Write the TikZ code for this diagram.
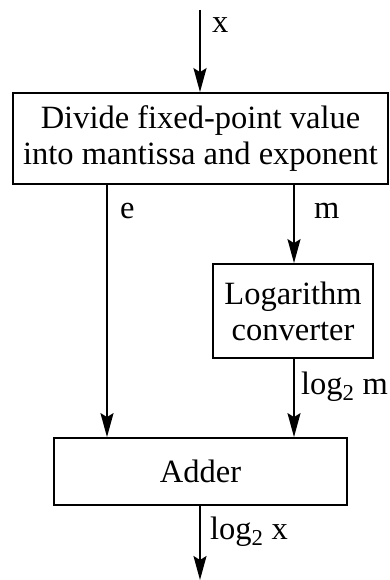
\documentclass[tikz,border=0pt]{standalone}
\usepackage{fontspec}
\setmainfont{Liberation Serif}
\usetikzlibrary{arrows.meta}
\begin{document}
\begin{tikzpicture}[x=1pt,y=-1pt,
  every node/.style={font=\fontsize{32.5}{36}\selectfont},
  blk/.style={draw,line width=1.8pt,align=center,inner sep=0pt},
  conn/.style={line width=1.8pt,-{Stealth[length=24pt,width=13pt,inset=4pt]}},
  lbl/.style={anchor=base west,inner sep=0pt}]
\useasboundingbox (0,0) rectangle (389,580);
\node[blk,minimum width=375pt,minimum height=91pt] (split) at (200.5,138.5) {Divide fixed-point value\\into mantissa and exponent};
\node[blk,minimum width=160pt,minimum height=94pt] (logc) at (293,311) {Logarithm\\converter};
\node[blk,minimum width=293pt,minimum height=67pt] (adder) at (200.5,471.5) {Adder};
\coordinate (in) at (200,10);
\coordinate (out) at (200,580);
\coordinate (ex) at (107,0);
\coordinate (mx) at (294,0);
\draw[conn] (in) -- (split.north -| in);
\draw[conn] (split.south -| ex) -- (adder.north -| ex);
\draw[conn] (split.south -| mx) -- (logc.north -| mx);
\draw[conn] (logc.south -| mx) -- (adder.north -| mx);
\draw[conn] (adder.south -| out) -- (out);
\node[lbl] (lx) at (212,33) {x};
\node[lbl] (le) at (120,218) {e};
\node[lbl] (lm) at (314,218) {m};
\node[lbl] (llm) at (301,394) {log\textsubscript{2} m};
\node[lbl] (llx) at (210,539) {log\textsubscript{2} x};
\end{tikzpicture}
\end{document}
